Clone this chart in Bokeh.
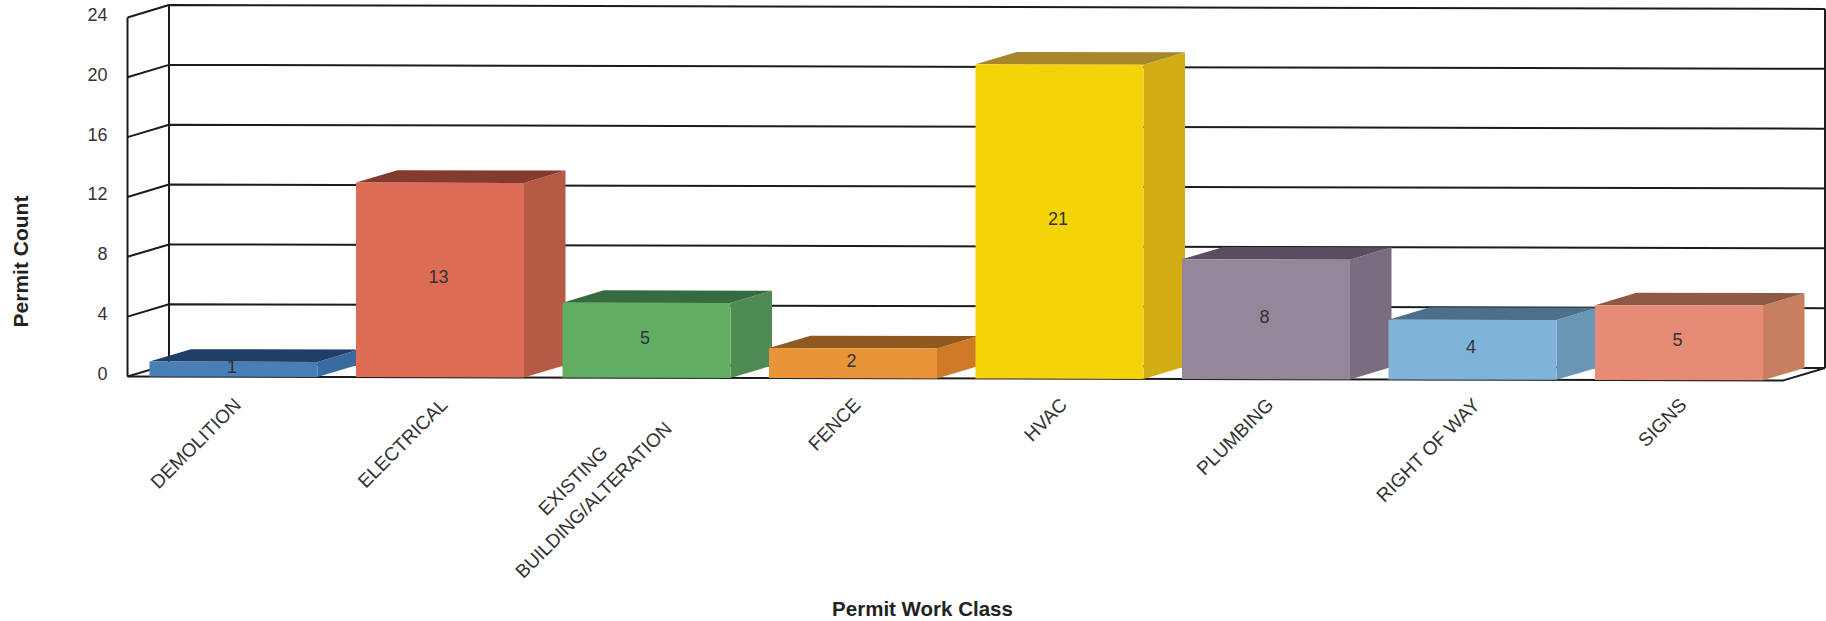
import math
from bokeh.core.properties import value
from bokeh.embed import file_html
from bokeh.models import ColumnDataSource, FixedTicker, LinearAxis, Range1d
from bokeh.plotting import figure
from bokeh.resources import INLINE

categories = ["DEMOLITION", "ELECTRICAL", "EXISTING\nBUILDING/ALTERATION", "FENCE",
              "HVAC", "PLUMBING", "RIGHT OF WAY", "SIGNS"]
counts = [1, 13, 5, 2, 21, 8, 4, 5]
y_ticks = [0, 4, 8, 12, 16, 20, 24]
front_colors = ["#4a7fb6", "#dc6c54", "#5fae63", "#ea9439", "#f2d408", "#95879a", "#80b3d9", "#e58b76"]
side_colors = ["#3a6b9e", "#b55a44", "#4d8a54", "#d07a28", "#d2ad16", "#7a6d80", "#6a96b5", "#c87f60"]
top_colors = ["#1f3f68", "#843a2d", "#356b41", "#8f5a20", "#a8872c", "#5a4d60", "#4c708c", "#8e5a45"]

W, H = 1826, 621
LEFT_PX, AXIS_PX = 127, 385
PITCH = 206.5      # px per category
UNIT = 14.96       # px per count
CENTER0_PX = 233
BASE_PX = 376


def dx(px):
    return (px - CENTER0_PX) / PITCH


def dy(px):
    return (BASE_PX - px) / UNIT


BAR_W = 168 / PITCH
DEPTH_X = 41.5 / PITCH
DEPTH_Y = 12.5 / UNIT
FRONT_LEFT = dx(LEFT_PX)
FRONT_RIGHT = dx(1783)
SKEW = -(4.0 / UNIT) / (1700 / PITCH)   # scanned page is slightly rotated
TEXT_UP = 3 / UNIT
TEXT_LEFT = 1.5 / PITCH


def pt(x, v, d=0.0):
    xx = x + d * DEPTH_X
    return xx, v + d * DEPTH_Y + SKEW * (xx - FRONT_LEFT)


def poly(points):
    pts = [pt(*q) for q in points]
    return [a for a, _ in pts], [b for _, b in pts]


p = figure(width=W, height=H, output_backend="svg", toolbar_location=None,
           x_range=Range1d(dx(0), dx(W)), y_range=Range1d(dy(H), dy(0)),
           x_axis_location=None, y_axis_location=None,
           min_border_left=0, min_border_right=0, min_border_top=0, min_border_bottom=0,
           margin=(0, 0, 0, 0),
           background_fill_color="#ffffff", border_fill_color="#ffffff",
           outline_line_color=None)
p.grid.visible = False
p.extra_x_ranges = {"labels": Range1d(dx(0) - 0.02, dx(W) - 0.02)}
p.extra_y_ranges = {"ticks": Range1d(dy(H) - TEXT_UP, dy(0) - TEXT_UP)}

# box walls
LINE = "#1c1c1c"
gx, gy = [], []
for t in y_ticks:
    a, b = poly([(FRONT_LEFT, t), (FRONT_LEFT, t, 1), (FRONT_RIGHT, t, 1)])
    gx.append(a); gy.append(b)
for wall in ([(FRONT_LEFT, 0), (FRONT_RIGHT, 0), (FRONT_RIGHT, 0, 1)],
             [(FRONT_LEFT, 0, 1), (FRONT_LEFT, 24, 1)],
             [(FRONT_RIGHT, 0, 1), (FRONT_RIGHT, 24, 1)],
             [(FRONT_LEFT, 0), (FRONT_LEFT, 24)]):
    a, b = poly(wall)
    gx.append(a); gy.append(b)
p.multi_line(gx, gy, line_color=LINE, line_width=2)

# 3-D bars, left to right so each front covers the previous side
xs, ys, cs = [], [], []
for i, v in enumerate(counts):
    l, r = i - BAR_W / 2, i + BAR_W / 2
    for face, col in (([(r, 0), (r, 0, 1), (r, v, 1), (r, v)], side_colors[i]),
                      ([(l, v), (r, v), (r, v, 1), (l, v, 1)], top_colors[i]),
                      ([(l, 0), (r, 0), (r, v), (l, v)], front_colors[i])):
        a, b = poly(face)
        xs.append(a); ys.append(b); cs.append(col)
p.patches(xs="xs", ys="ys", fill_color="cs", line_color=None,
          source=ColumnDataSource(dict(xs=xs, ys=ys, cs=cs)))

# value labels
FONT = value("Liberation Sans")
ticks_x = list(range(len(counts)))
lab_x = [i - TEXT_LEFT for i in ticks_x]
lab_y = [pt(i, v / 2)[1] + TEXT_UP for i, v in enumerate(counts)]
p.text(lab_x, lab_y, text=[str(v) for v in counts], text_align="center", text_baseline="middle",
       text_font=FONT, text_font_size="18px", text_color="#333333")

# axes
yaxis = LinearAxis(y_range_name="ticks", ticker=FixedTicker(ticks=y_ticks), bounds=(0, 24),
                   fixed_location=FRONT_LEFT)
yaxis.axis_line_color = None
yaxis.major_tick_line_color = None
yaxis.minor_tick_line_color = None
yaxis.major_label_standoff = 14
yaxis.major_label_text_font = "Liberation Sans"
yaxis.major_label_text_font_size = "18px"
yaxis.major_label_text_color = "#333333"
p.add_layout(yaxis, "left")

overrides = {i: ("" if "\n" in c else c) for i, c in enumerate(categories)}
xaxis = LinearAxis(x_range_name="labels", ticker=FixedTicker(ticks=ticks_x),
                   major_label_overrides=overrides, fixed_location=dy(AXIS_PX))
xaxis.axis_line_color = None
xaxis.major_tick_line_color = None
xaxis.minor_tick_line_color = None
xaxis.major_label_orientation = math.pi / 4
xaxis.major_label_standoff = 10
xaxis.major_label_text_font = "Liberation Sans"
xaxis.major_label_text_font_size = "19px"
xaxis.major_label_text_color = "#333333"
p.add_layout(xaxis, "below")

# the two-line tick label has its lines centred on each other
line_a, line_b = categories[2].split("\n")
p.text([dx(572.5), dx(593)], [dy(480), dy(499.5)], text=[line_a, line_b], angle=math.pi / 4,
       text_align="center", text_baseline="middle", text_font=FONT, text_font_size="19px",
       text_color="#333333")

# axis titles
p.text([dx(20)], [dy(261)], text=["Permit Count"], angle=math.pi / 2, text_align="center",
       text_baseline="middle", text_font=FONT, text_font_style="bold", text_font_size="21px",
       text_color="#222222")
p.text([dx(922)], [dy(608)], text=["Permit Work Class"], text_align="center",
       text_baseline="middle", text_font=FONT, text_font_style="bold", text_font_size="20.5px",
       text_color="#222222")

open("out.html", "w").write(file_html(p, INLINE))
